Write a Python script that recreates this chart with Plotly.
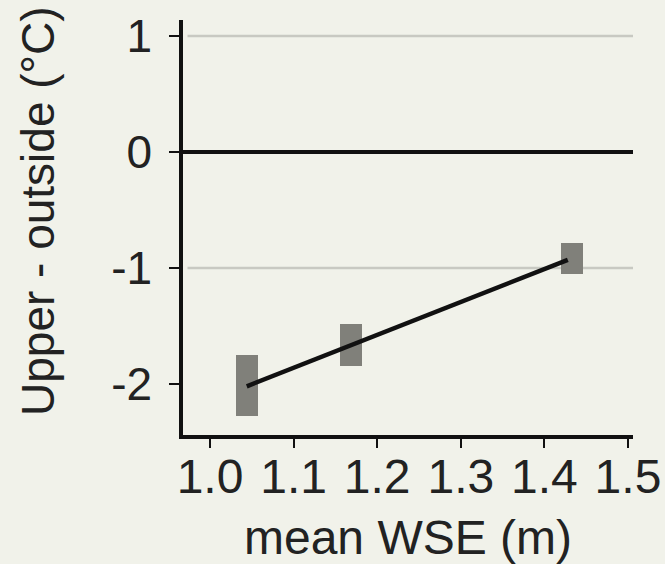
import plotly.graph_objects as go

# Data
wse = [1.044, 1.169, 1.433]          # mean WSE (m), box centres
lower = [-2.276, -1.845, -1.05]      # lower bound of each box (°C)
upper = [-1.75, -1.483, -0.785]      # upper bound of each box (°C)
fit_x = [1.044, 1.428]               # regression line end points
fit_y = [-2.02, -0.93]
x_ticks = [1.0, 1.1, 1.2, 1.3, 1.4, 1.5]
x_tick_labels = ["1.0", "1.1", "1.2", "1.3", "1.4", "1.5"]
y_ticks = [-2, -1, 0, 1]
y_tick_labels = ["-2", "-1", "0", "1"]
grid_levels = [1, -1]
y_title = "Upper - outside (°C)"
x_title = "mean WSE (m)"

bg = "rgb(241,242,234)"
font = "Liberation Sans, Arial, sans-serif"
txt = "#222222"

fig = go.Figure()
fig.add_trace(go.Bar(
    x=wse,
    y=[u - l for u, l in zip(upper, lower)],
    base=lower,
    width=0.026,
    marker=dict(color="rgb(128,128,122)", line=dict(width=0)),
    showlegend=False,
    hoverinfo="skip",
))
fig.add_trace(go.Scatter(
    x=fit_x, y=fit_y, mode="lines",
    line=dict(color="#111111", width=4.5),
    showlegend=False, hoverinfo="skip",
))

for g in grid_levels:
    fig.add_shape(type="line", xref="paper", yref="y", x0=0.01, x1=1, y0=g, y1=g,
                  line=dict(color="rgb(200,201,194)", width=2.5), layer="below")

fig.add_annotation(
    text=y_title, textangle=-90, showarrow=False,
    xref="paper", yref="paper", x=-0.322, y=0.54,
    xanchor="center", yanchor="middle",
    font=dict(size=46, family=font, color=txt),
)

fig.update_layout(
    width=665, height=564,
    margin=dict(l=183, r=32, t=20, b=129),
    paper_bgcolor=bg, plot_bgcolor=bg,
    font=dict(family=font, size=46, color=txt),
    bargap=0,
)
fig.update_xaxes(
    range=[0.9677, 1.506], automargin=False,
    tickmode="array", tickvals=x_ticks, ticktext=x_tick_labels,
    showgrid=False, zeroline=False,
    showline=True, linecolor="#111111", linewidth=3.5,
    ticks="outside", ticklen=9, tickwidth=2, tickcolor="#111111",
    ticklabelstandoff=-12,
    tickfont=dict(size=48, family=font, color=txt),
    title=dict(text=x_title, font=dict(size=48, family=font, color=txt), standoff=19),
)
fig.update_yaxes(
    range=[-2.44, 1.138], automargin=False,
    tickmode="array", tickvals=y_ticks, ticktext=y_tick_labels,
    showgrid=False,
    zeroline=True, zerolinecolor="#111111", zerolinewidth=4,
    showline=True, linecolor="#111111", linewidth=3.5,
    ticks="outside", ticklen=10, tickwidth=2, tickcolor="#111111",
    ticklabelstandoff=8,
    tickfont=dict(size=46, family=font, color=txt),
)

fig.write_html("out.html")
